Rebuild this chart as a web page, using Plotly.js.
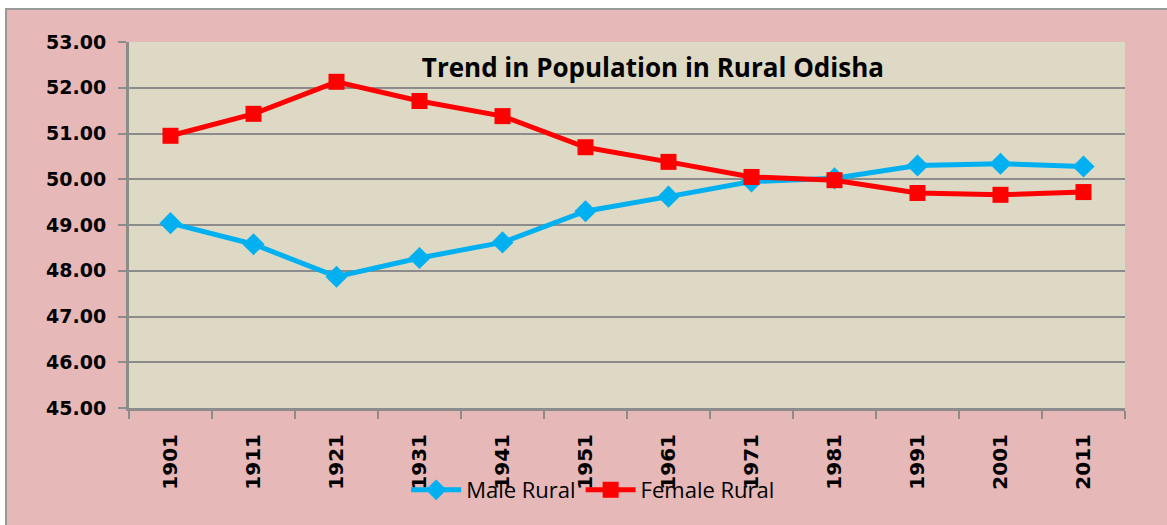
<!DOCTYPE html>
<html>
<head>
<meta charset="utf-8">
<script src="https://cdn.plot.ly/plotly-3.0.1.min.js"></script>
<style>
  html, body { margin:0; padding:0; background:#ffffff; overflow:hidden; width:1167px; height:525px; }
  #wrap { position:absolute; left:5px; top:8px; border-left:2px solid #999999; border-top:2px solid #999999; width:1170px; height:530px; }
  #chart { width:1160px; height:515px; }
</style>
</head>
<body>
<div id="wrap"><div id="chart"></div></div>
<script>
const years = ["1901","1911","1921","1931","1941","1951","1961","1971","1981","1991","2001","2011"];
const maleRural = [49.04, 48.58, 47.87, 48.28, 48.62, 49.30, 49.62, 49.95, 50.02, 50.30, 50.34, 50.28];
const femaleRural = [50.95, 51.43, 52.13, 51.71, 51.38, 50.70, 50.38, 50.05, 49.98, 49.70, 49.66, 49.72];
const yTicks = [45, 46, 47, 48, 49, 50, 51, 52, 53];
const yTickText = yTicks.map(v => v.toFixed(2));

const titleFont = "'Open Sans', 'DejaVu Sans', sans-serif";
const tickFont = "'DejaVu Sans', 'Open Sans', sans-serif";

const traces = [
  {
    x: years, y: maleRural, name: "Male Rural", type: "scatter", mode: "lines+markers",
    line: { color: "#00B0F0", width: 5 },
    marker: { symbol: "diamond", size: 17, color: "#00B0F0" }
  },
  {
    x: years, y: femaleRural, name: "Female Rural", type: "scatter", mode: "lines+markers",
    line: { color: "#FF0000", width: 5 },
    marker: { symbol: "square", size: 16, color: "#FF0000" }
  }
];

const layout = {
  width: 1160, height: 515,
  margin: { l: 122, r: 42, t: 32, b: 117 },
  paper_bgcolor: "#E6B8B7",
  plot_bgcolor: "#DDD9C4",
  font: { family: titleFont, color: "#000000" },
  title: {
    text: "<b>Trend in Population in Rural Odisha</b>",
    font: { family: titleFont, size: 26, color: "#000000" },
    xref: "paper", yref: "paper", x: 0.526, y: 0.929, xanchor: "center", yanchor: "middle"
  },
  xaxis: {
    type: "category",
    range: [-0.5, 11.5],
    tickmode: "array", tickvals: years, ticktext: years,
    tickangle: -90,
    tickfont: { family: tickFont, size: 20, color: "#000000", weight: "bold" },
    ticks: "outside", ticklen: 8, tickwidth: 2, tickcolor: "#8c8c8c",
    tickson: "boundaries",
    ticklabelstandoff: 15,
    showline: true, linecolor: "#8c8c8c", linewidth: 3,
    showgrid: false, zeroline: false
  },
  yaxis: {
    range: [45, 53],
    tickmode: "array", tickvals: yTicks, ticktext: yTickText,
    tickfont: { family: tickFont, size: 19, color: "#000000", weight: "bold" },
    ticks: "outside", ticklen: 8, tickwidth: 2, tickcolor: "#8c8c8c",
    ticklabelstandoff: 8,
    showline: true, linecolor: "#8c8c8c", linewidth: 3,
    showgrid: true, gridcolor: "#8c8c8c", gridwidth: 2,
    zeroline: false
  },
  legend: {
    orientation: "h",
    x: 0.466, y: -0.224, xanchor: "center", yanchor: "middle",
    xref: "paper", yref: "paper",
    bgcolor: "rgba(0,0,0,0)",
    font: { family: titleFont, size: 22, color: "#000000" },
    itemwidth: 50,
    tracegroupgap: 20
  },
  showlegend: true
};

Plotly.newPlot("chart", traces, layout, { displayModeBar: false, staticPlot: true });
</script>
</body>
</html>
